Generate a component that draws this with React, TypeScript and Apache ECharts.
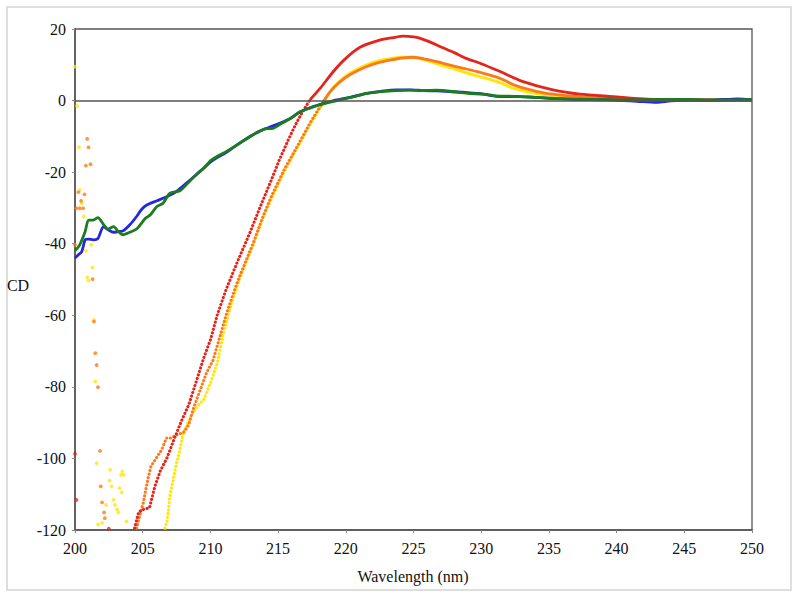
import React, { useEffect, useRef } from "react";
import * as echarts from "echarts";

// Wavelength (nm), CD values
const redNoise: number[][] = [[200, -98.7], [200.1, -111.6], [202.5, -119.6]];
const redSteep: number[][] = [
  [204.4, -119.5], [204.7, -115], [205.0, -114.3], [205.5, -113.8], [205.9, -107.8], [206.3, -103.5],
  [206.8, -99.8], [207.3, -94.8], [207.9, -89.2], [208.4, -85], [209.0, -78], [209.5, -72],
  [210.0, -66.9], [210.5, -60], [211.15, -52.9], [212.0, -45], [212.9, -37.1], [213.7, -29.5],
  [214.5, -22.2], [215.1, -16.5], [215.75, -11], [216.25, -7], [216.75, -3.5], [217.35, 0.2],
];
const redTop: number[][] = [
  [217.35, 0.2], [218.1, 3.4], [219.1, 8.2], [220, 11.8], [221.05, 14.9], [222.5, 16.9], [223.5, 17.6],
  [224.25, 18.0], [225.0, 17.8], [225.5, 17.4], [226.2, 16.4], [226.95, 15.1], [228, 13.4],
  [228.9, 11.8], [230, 10.3], [231.4, 8.1], [233.1, 5.3], [235.3, 3.0], [237.3, 1.8],
  [239.75, 1.1], [242.2, 0.4], [245, 0.2], [247.5, 0.1], [250, 0.1],
];

const orangeNoise: number[][] = [
  [200.0, -40.3], [200.1, -30.1], [200.25, -25.6], [200.35, -30.1], [200.45, -28], [200.6, -30.1],
  [200.7, -26.2], [200.8, -18.2], [200.9, -10.7], [201.0, -13.1], [201.15, -17.8], [201.3, -49.9],
  [201.4, -61.8], [201.5, -70.6], [201.6, -73.9], [201.7, -80.1], [201.85, -97.9], [201.9, -107.8],
  [202.0, -112.3], [202.15, -115.1], [202.2, -116.7],
];
const orangeSteep: number[][] = [
  [204.55, -119.5], [204.8, -115.8], [205.05, -112.3], [205.25, -108.3], [205.4, -105.5],
  [205.6, -102.3], [206.0, -99.9], [206.4, -97.6], [206.75, -94.3], [207.1, -94.3], [207.5, -93.4],
  [208.0, -92.8], [208.4, -90.6], [208.75, -86], [209.25, -80.8], [209.7, -76.2], [210.2, -72.5],
  [210.7, -66], [211.2, -59.4], [211.7, -53.8], [212.05, -50.1], [212.6, -45], [213.2, -39.5],
  [213.8, -33.2], [214.5, -26.8], [215.5, -18.9], [216.4, -12.9], [217.35, -6.3], [218.1, -1.7],
];
const orangeTop: number[][] = [
  [218.1, -1.7], [218.85, 2.5], [219.5, 5], [220.3, 7.2], [221.55, 9.5], [222.4, 10.6], [223.25, 11.3],
  [224.2, 11.9], [225.0, 12.1], [226.0, 11.5], [226.8, 10.8], [227.7, 9.9], [228.7, 9.0], [229.7, 8.1],
  [231.4, 6.2], [232.4, 4.4], [233.5, 3.1], [234.8, 2.0], [237.3, 1.1], [240, 0.6], [243, 0.3],
  [246, 0.2], [250, 0.1],
];

const yellowNoise: number[][] = [
  [200.0, 9.5], [200.15, -1.5], [200.3, -13], [200.35, -25], [200.5, -28.7], [200.65, -32.4],
  [200.8, -42], [200.9, -49.4], [201.0, -50.3], [201.2, -40.3], [201.3, -46.7], [201.4, -61.3],
  [201.5, -78.5], [201.6, -101.3], [201.7, -118.5], [202.0, -118], [202.3, -113], [202.55, -106.2],
  [202.6, -103.2], [202.7, -107.8], [202.85, -111.6], [202.95, -113], [203.1, -114.2], [203.2, -115.1],
  [203.3, -108.3], [203.4, -104.6], [203.45, -109.5], [203.5, -103.6], [203.6, -104.6], [203.8, -117.6],
];
const yellowSteep: number[][] = [
  [206.65, -119.5], [206.8, -117.6], [206.9, -114.4], [207.0, -110.6], [207.25, -106], [207.5, -101.3],
  [207.75, -97.6], [208.0, -92.9], [208.5, -88.7], [209.0, -85.5], [209.5, -83.6], [210.0, -79],
  [210.5, -73.4], [211.0, -64.5], [211.5, -57.5], [212.05, -51], [212.6, -45.5], [213.2, -40],
  [213.8, -33.5], [214.5, -27.5], [215.5, -19.5], [216.4, -13.3], [217.35, -6.8], [218.1, -2],
];
const yellowTop: number[][] = [
  [218.1, -2], [218.85, 2.5], [219.5, 5.2], [220.3, 7.6], [221.55, 10], [222.4, 11.1], [223.25, 11.7],
  [224.2, 12.1], [225.0, 12.1], [226.0, 11.2], [226.8, 10.2], [227.7, 9.2], [228.7, 8.0], [229.9, 6.7],
  [231.4, 5.0], [232.4, 3.4], [233.5, 2.4], [234.8, 1.6], [237.3, 0.8], [240, 0.4], [243, 0.2],
  [246, 0.1], [250, 0.1],
];

const blueData: number[][] = [
  [200, -44], [200.25, -43.1], [200.5, -42.2], [200.75, -38.9], [201.0, -38.7], [201.35, -38.9],
  [201.7, -38.5], [202.1, -35.2], [202.45, -36.1], [202.85, -36.8], [203.2, -36.6], [203.55, -36.4],
  [204.05, -34.7], [204.55, -32.4], [204.9, -30.5], [205.3, -29.2], [206.05, -28.0], [206.8, -26.8],
  [207.5, -25.4], [208.0, -23.8], [208.5, -22.2], [209.0, -20.5], [209.5, -18.9], [210.0, -17.2],
  [210.5, -15.9], [211.1, -14.7], [212.0, -12.3], [212.9, -10.1], [213.6, -8.6], [214.4, -7.4],
  [215.2, -6.2], [215.9, -5.0], [216.6, -3.2], [217.35, -2.0], [218.2, -1.0], [219.1, 0.0],
  [220.3, 0.9], [221.55, 2.0], [222.6, 2.6], [223.75, 3.0], [224.7, 3.0], [225.7, 2.8], [226.7, 2.7],
  [227.7, 2.5], [229, 2.2], [230.15, 1.8], [231.1, 1.2], [232.5, 1.1], [233.6, 1.0], [235, 0.6],
  [237, 0.3], [239, 0.2], [240.5, 0.0], [241.5, -0.2], [242.95, -0.5], [244, -0.1], [245.5, 0.1],
  [247, 0.1], [248.9, 0.5], [250, 0.2],
];
const greenData: number[][] = [
  [200, -42], [200.35, -40.3], [200.75, -36.6], [201.0, -33.4], [201.35, -33.4], [201.7, -32.7],
  [202.1, -34.6], [202.45, -35.9], [202.85, -35.2], [203.2, -36.6], [203.55, -37.5], [204.05, -36.8],
  [204.55, -35.9], [205.2, -32.9], [205.55, -32.0], [206.05, -29.6], [206.5, -28.7], [207.0, -25.9],
  [207.75, -25.2], [208.5, -22.4], [209.0, -20.6], [209.5, -18.9], [210.0, -16.8], [210.5, -15.6],
  [211.1, -14.4], [212.0, -12.3], [212.9, -10.1], [213.6, -8.7], [214.0, -7.9], [214.6, -7.8],
  [215.2, -6.5], [215.9, -5.0], [216.6, -3.2], [217.35, -2.1], [218.2, -1.0], [219.1, -0.2],
  [220.3, 0.8], [221.55, 2.0], [222.6, 2.5], [223.75, 2.8], [224.7, 2.9], [225.7, 2.8], [226.7, 2.9],
  [227.7, 2.6], [229, 2.0], [230.15, 1.8], [231.1, 1.3], [232.5, 1.2], [234, 0.9], [235.5, 0.6],
  [237, 0.4], [239, 0.3], [241, 0.2], [243, 0.3], [245, 0.3], [247, 0.2], [249, 0.2], [250, 0.3],
];

const RED = "#e2261c";
const ORANGE = "#fb7a1c";
const YELLOW = "#ffe60a";
const BLUE = "#2328e0";
const GREEN = "#1b7d1b";
const FONT = "'Liberation Serif', 'Times New Roman', serif";

function noiseSeries(data: number[][], color: string) {
  return {
    type: "scatter", data, symbol: "circle", symbolSize: 3.8,
    itemStyle: { color }, silent: true, clip: true,
  };
}
function dottedSeries(data: number[][], color: string) {
  return {
    type: "line", data, showSymbol: false, symbol: "none", clip: true, silent: true,
    lineStyle: { color, width: 3.1, type: [0.1, 3.6], cap: "round" },
  };
}
function solidSeries(data: number[][], color: string, width = 2.8) {
  return {
    type: "line", data, showSymbol: false, symbol: "none", clip: true, silent: true, smooth: 0.25,
    lineStyle: { color, width, join: "round" },
  };
}

export default function App() {
  const ref = useRef<HTMLDivElement>(null);
  useEffect(() => {
    if (!ref.current) return;
    const chart = echarts.init(ref.current, null, { renderer: "svg" });
    chart.setOption({
      animation: false,
      backgroundColor: "#ffffff",
      grid: { left: 75, right: 48, top: 29, bottom: 67, show: true, borderColor: "#555", borderWidth: 1.3, backgroundColor: "transparent" },
      xAxis: {
        type: "value", min: 200, max: 250, interval: 5,
        axisLine: { show: true, onZero: false, lineStyle: { color: "#555", width: 1.5 } },
        axisTick: { show: true, length: 3, inside: false, lineStyle: { color: "#888" } },
        splitLine: { show: false },
        axisLabel: { color: "#111", fontFamily: FONT, fontSize: 16, margin: 10 },
      },
      yAxis: {
        type: "value", min: -120, max: 20, interval: 20,
        axisLine: { show: true, onZero: false, lineStyle: { color: "#555", width: 1.5 } },
        axisTick: { show: true, length: 3, inside: false, lineStyle: { color: "#888" } },
        splitLine: { show: false },
        axisLabel: { color: "#111", fontFamily: FONT, fontSize: 16, margin: 9 },
      },
      graphic: [
        { type: "rect", shape: { x: 7, y: 7, width: 784, height: 583 }, style: { fill: "none", stroke: "#d4d4d4", lineWidth: 1.5 }, silent: true, z: -1 },
        { type: "text", x: 18, y: 285, style: { text: "CD", font: `16px ${FONT}`, fill: "#111", textAlign: "center", textVerticalAlign: "middle" } },
        { type: "text", x: 413, y: 576, style: { text: "Wavelength (nm)", font: `16px ${FONT}`, fill: "#111", textAlign: "center", textVerticalAlign: "middle" } },
      ],
      series: [
        {
          type: "line", data: [], silent: true,
          markLine: {
            silent: true, symbol: ["none", "none"], label: { show: false },
            lineStyle: { color: "#555", width: 1.6, type: "solid" },
            data: [{ yAxis: 0 }],
          },
        },
        noiseSeries(yellowNoise, YELLOW),
        dottedSeries(yellowSteep, YELLOW),
        solidSeries(yellowTop, YELLOW, 3),
        noiseSeries(orangeNoise, ORANGE),
        dottedSeries(orangeSteep, ORANGE),
        solidSeries(orangeTop, ORANGE),
        noiseSeries(redNoise, RED),
        dottedSeries(redSteep, RED),
        solidSeries(redTop, RED),
        solidSeries(blueData, BLUE),
        solidSeries(greenData, GREEN),
      ],
    });
    return () => chart.dispose();
  }, []);
  return <div ref={ref} style={{ position: "fixed", left: 0, top: 0, width: 800, height: 597, background: "#fff" }} />;
}
